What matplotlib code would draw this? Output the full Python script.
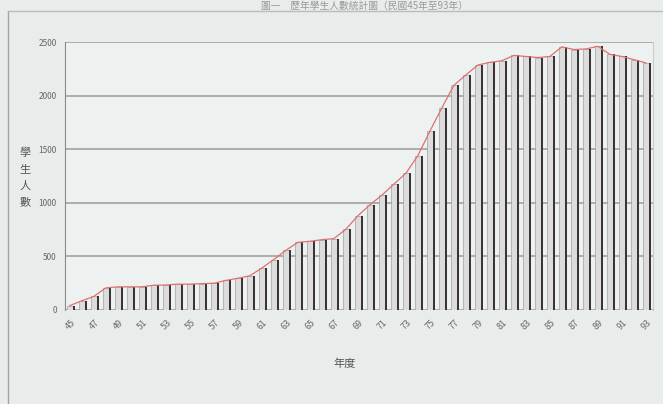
# 歷年學生人數 bar chart (scanned Excel style)
import matplotlib.pyplot as plt
from matplotlib.lines import Line2D

plt.rcParams['font.family'] = ['Noto Sans CJK TC', 'DejaVu Sans']

years = list(range(45, 94))
students = [40, 85, 125, 205, 215, 215, 215, 230, 232, 240,
            240, 245, 248, 275, 295, 318, 390, 470, 555, 630,
            640, 655, 665, 752, 878, 980, 1070, 1173, 1274, 1439,
            1667, 1885, 2095, 2193, 2285, 2310, 2325, 2375, 2365, 2355,
            2365, 2455, 2430, 2435, 2460, 2385, 2365, 2335, 2305]
tick_years = list(range(45, 94, 2))

fig = plt.figure(figsize=(6.63, 4.04), dpi=100, facecolor='#e8edeb')
ax = fig.add_axes([0.098, 0.233, 0.887, 0.663])
ax.set_facecolor('#edf1ef')

# light face + dark side to fake the 3D columns
ax.bar([y - 0.1 for y in years], students, width=0.5, color='#dcdcdc',
       edgecolor='#a0a0a0', linewidth=0.5, zorder=3)
ax.bar([y + 0.24 for y in years], students, width=0.18, color='#3a3436',
       linewidth=0, zorder=3)
ax.plot([y - 0.1 for y in years], students, color='#e07070', linewidth=0.9, zorder=4)

ax.set_xlim(44.5, 93.5)
ax.set_ylim(0, 2500)
ax.set_yticks([0, 500, 1000, 1500, 2000, 2500])
ax.set_yticklabels(['0', '500', '1000', '1500', '2000', '2500'],
                   fontsize=6, color='#666666')
ax.set_xticks(tick_years)
ax.set_xticklabels([str(t) for t in tick_years], fontsize=6.5, color='#666666',
                   rotation=45, ha='right', rotation_mode='anchor')
ax.tick_params(length=0, pad=6)
ax.grid(axis='y', color='#9a9a9a', linewidth=1.1, zorder=0)

for s in ['top', 'bottom']:
    ax.spines[s].set_visible(False)
ax.spines['left'].set_color('#8a8a8a')
ax.spines['right'].set_color('#c8cccb')

fig.text(0.52, 0.091, '年度', fontsize=8, color='#555555', ha='center')
fig.text(0.038, 0.56, '學\n生\n人\n數', fontsize=8, color='#555555',
         ha='center', va='center', linespacing=1.8)

# title sits at the very top of the scan
fig.text(0.55, 0.999, '圖一　歷年學生人數統計圖（民國45年至93年）', fontsize=7,
         color='#999999', ha='center', va='top')

fig.add_artist(Line2D([0.012, 0.012], [0, 0.972], color='#a0a4a3', linewidth=1))
fig.add_artist(Line2D([0.012, 1.0], [0.972, 0.972], color='#b8bcbb', linewidth=1))

plt.savefig('out.png', dpi=100, facecolor=fig.get_facecolor())
